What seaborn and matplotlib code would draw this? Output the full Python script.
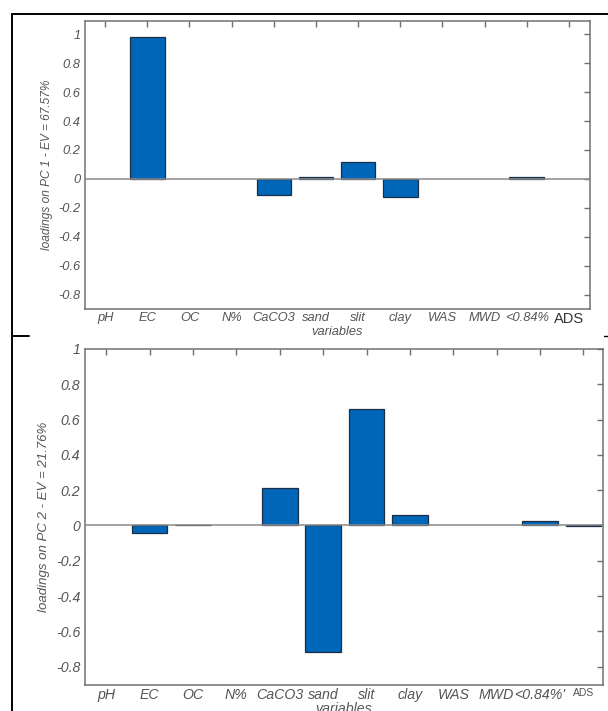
import numpy as np
import pandas as pd
import matplotlib
matplotlib.use("Agg")
import matplotlib.pyplot as plt
from matplotlib.lines import Line2D
import seaborn as sns

# data
variables = ["pH", "EC", "OC", "N%", "CaCO3", "sand", "slit", "clay",
             "WAS", "MWD", "<0.84%", "ADS"]
pc1_loadings = [0.0, 0.98, 0.0, 0.0, -0.113, 0.012, 0.118, -0.122,
                0.0, 0.0, 0.016, 0.0]
pc2_loadings = [0.0, -0.042, 0.005, 0.0, 0.215, -0.717, 0.658, 0.057,
                0.0, 0.0, 0.024, -0.005]
pc1_label = "loadings on PC 1 - EV = 67.57%"
pc2_label = "loadings on PC 2 - EV = 21.76%"
pc1_yticks = [1, 0.8, 0.6, 0.4, 0.2, 0, -0.2, -0.4, -0.6, -0.8]
pc2_yticks = [1, 0.8, 0.6, 0.4, 0.2, 0, -0.2, -0.4, -0.6, -0.8]

sns.set_style("white")
plt.rcParams['font.family'] = ['Liberation Sans', 'DejaVu Sans']

BAR = "#0067b8"
EDGE = "#1c2e45"
GREY = "#555555"
SPINE = "#707070"

W, H = 608, 711
fig = plt.figure(figsize=(W / 100, H / 100), dpi=100)


def px_axes(left, top, right, bottom):
    return fig.add_axes([left / W, 1 - bottom / H, (right - left) / W, (bottom - top) / H])


def draw_panel(ax, values, ylabel, yticks, ylim, xlim, fs, last_lbl):
    df = pd.DataFrame({"variable": variables, "loading": values})
    sns.barplot(data=df, x="variable", y="loading", order=variables, color=BAR,
                width=0.82, saturation=1, edgecolor=EDGE, linewidth=0.9, ax=ax, zorder=2)
    # zero loadings give no visible bar
    for p in ax.patches:
        if p.get_height() == 0:
            p.set_visible(False)
    ax.axhline(0, color="#8a8a8a", lw=1.1, zorder=3)
    ax.set_xlim(*xlim)
    ax.set_ylim(*ylim)
    ax.set_yticks(yticks)
    ax.set_yticklabels([f"{t:g}" for t in yticks], fontstyle="italic", color=GREY, fontsize=fs)
    ax.set_xticks(range(len(variables)))
    ax.set_xticklabels(variables, fontstyle="italic", color=GREY, fontsize=fs)
    lbls = ax.get_xticklabels()
    lbls[-1].set_fontstyle("normal")
    lbls[-1].set_fontsize(last_lbl[0])
    lbls[-1].set_color(last_lbl[1])
    ax.set_xlabel("variables", fontstyle="italic", color=GREY, fontsize=fs, labelpad=0)
    ax.set_ylabel(ylabel, fontstyle="italic", color=GREY, fontsize=fs - 0.7, labelpad=4)
    ax.tick_params(direction="in", length=4, width=1, color=SPINE, top=True, right=True,
                   pad=3)
    ax.tick_params(axis="x", pad=2)
    for s in ax.spines.values():
        s.set_color(SPINE)
        s.set_linewidth(1.1)
        s.set_visible(True)


ax1 = px_axes(84.5, 20.7, 590, 309)
draw_panel(ax1, pc1_loadings, pc1_label, pc1_yticks, (-0.897, 1.092), (-0.49, 11.5),
           9.3, (10.5, "#333333"))

ax2 = px_axes(84.5, 349, 603, 685)
draw_panel(ax2, pc2_loadings, pc2_label, pc2_yticks, (-0.904, 1.0), (-0.5, 11.45),
           10.2, (7.5, GREY))
ax2.set_xticklabels([v if v != "<0.84%" else "<0.84%'" for v in variables],
                    fontstyle="italic", color=GREY, fontsize=10.2)
lb = ax2.get_xticklabels()
lb[-1].set_fontstyle("normal")
lb[-1].set_fontsize(7.5)

# black frame pieces around the panels
def frame_line(xs, ys, lw=1.4):
    fig.add_artist(Line2D([x / W for x in xs], [1 - y / H for y in ys],
                          color="black", lw=lw, transform=fig.transFigure))


frame_line([12.3, 608], [13.5, 13.5])
frame_line([12.3, 12.3], [13.5, 711])
frame_line([12.3, 29], [336, 336])
frame_line([604, 608], [336, 336], lw=1.0)

fig.savefig("out.png", dpi=100)
